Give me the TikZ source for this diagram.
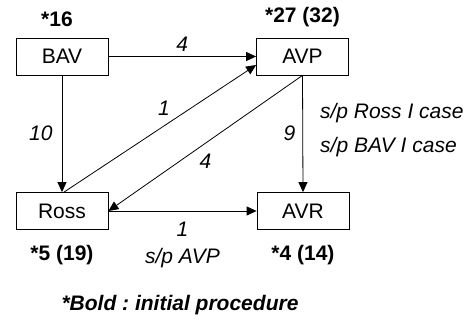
\documentclass[tikz,border=0pt]{standalone}
\usepackage{fontspec}
\setmainfont{Liberation Sans}
\usetikzlibrary{positioning, arrows.meta}
\frenchspacing

\begin{document}
\begin{tikzpicture}[x=1pt, y=-1pt, line width=0.8pt,
    proc/.style={draw, minimum width=92pt, minimum height=37pt, inner sep=0pt,
      font=\fontsize{21}{25}\selectfont},
    lbl/.style={font=\fontsize{21}{25}\selectfont\itshape, inner sep=1pt},
    cnt/.style={font=\fontsize{21}{25}\selectfont\bfseries, inner sep=1pt},
    flow/.style={-{Triangle[length=10pt, width=9pt]}}]
  \useasboundingbox (0,0) rectangle (471,320);
  \node[proc] (bav)  at (62,56.5)  {BAV};
  \node[proc] (avp)  at (302.5,56.5) {AVP};
  \node[proc] (ross) at (62,211)   {Ross};
  \node[proc] (avr)  at (303,211)  {AVR};

  \node[cnt, above=9pt of bav, xshift=-5pt] (nbav)  {*16};
  \node[cnt, above=9pt of avp]              (navp)  {*27 (32)};
  \node[cnt, below=14pt of ross]            (nross) {*5 (19)};
  \node[cnt, below=14pt of avr]             (navr)  {*4 (14)};

  \draw[flow] (bav.east) -- node[lbl, above=4pt] (lba) {4} (avp.west);
  \draw[flow] (bav.south) -- node[lbl, left=8pt] (lbr) {10} (ross.north);
  \draw[flow] ([xshift=2pt]ross.north) -- node[lbl, pos=0.52, above=9pt] (lra) {1}
    ([yshift=-8.5pt]avp.west);
  \draw[flow] (avp.south) -- node[lbl, pos=0.5, below=9pt] (lar) {4} (ross.east);
  \draw[flow] (avp.south) -- node[lbl, left=6pt] (lav) {9}
    node[lbl, pos=0.325, right=16pt] (lsr) {s/p Ross I case}
    node[lbl, pos=0.615, right=16pt] (lsb) {s/p BAV I case} (avr.north);
  \draw[flow] (ross.east) -- node[lbl, below=10pt] (lrv) {1} (avr.west);
  \node[lbl, below=9pt of lrv] (lsp) {s/p AVP};

  \node[cnt, font=\fontsize{21}{25}\selectfont\bfseries\itshape] (note) at (180,305)
    {*Bold : initial procedure};
\end{tikzpicture}
\end{document}
